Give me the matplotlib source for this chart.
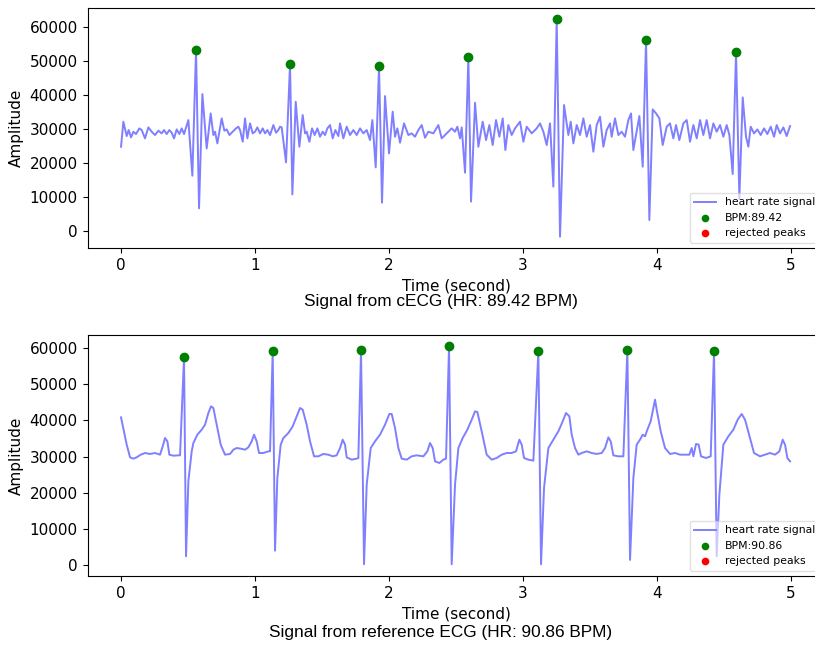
import matplotlib
matplotlib.use('Agg')
import matplotlib.pyplot as plt

# cECG signal (time in s, amplitude)
cecg_t = [0.0, 0.0174, 0.0423, 0.0572, 0.0746, 0.0920, 0.1119, 0.1368, 0.1542, 0.1791,
          0.2040, 0.2288, 0.2537, 0.2786, 0.3035, 0.3209, 0.3408, 0.3607, 0.3781, 0.3955,
          0.4154, 0.4353, 0.4527, 0.4701, 0.5025, 0.5323, 0.5597, 0.5821, 0.6070, 0.6393,
          0.6691, 0.6890, 0.7015, 0.7189, 0.7512, 0.7711, 0.7886, 0.8085, 0.8333, 0.8582,
          0.8756, 0.8881, 0.9080, 0.9254, 0.9428, 0.9627, 0.9826, 1.0000, 1.0174, 1.0373,
          1.0572, 1.0746, 1.0920, 1.1119, 1.1368, 1.1567, 1.1741, 1.1866, 1.1990, 1.2313,
          1.2612, 1.2786, 1.3035, 1.3308, 1.3557, 1.3731, 1.3856, 1.4055, 1.4254, 1.4453,
          1.4652, 1.4851, 1.5050, 1.5224, 1.5398, 1.5597, 1.5796, 1.5995, 1.6219, 1.6343,
          1.6592, 1.6840, 1.7089, 1.7338, 1.7587, 1.7836, 1.8084, 1.8333, 1.8582, 1.8756,
          1.9005, 1.9253, 1.9477, 1.9701, 1.9999, 2.0273, 2.0447, 2.0622, 2.0821, 2.1119,
          2.1443, 2.1691, 2.1940, 2.2189, 2.2438, 2.2686, 2.2935, 2.3308, 2.3681, 2.3930,
          2.4303, 2.4676, 2.4925, 2.5099, 2.5298, 2.5423, 2.5672, 2.5920, 2.6119, 2.6418,
          2.6667, 2.6990, 2.7239, 2.7488, 2.7736, 2.7985, 2.8234, 2.8482, 2.8681, 2.8905,
          2.9154, 2.9403, 2.9776, 3.0025, 3.0273, 3.0646, 3.1020, 3.1268, 3.1517, 3.1766,
          3.2015, 3.2263, 3.2512, 3.2761, 3.3059, 3.3383, 3.3557, 3.3756, 3.4005, 3.4253,
          3.4502, 3.4751, 3.5000, 3.5248, 3.5497, 3.5746, 3.5995, 3.6243, 3.6492, 3.6616,
          3.6865, 3.7114, 3.7363, 3.7611, 3.7860, 3.8059, 3.8233, 3.8681, 3.8930, 3.9179,
          3.9427, 3.9676, 3.9925, 4.0174, 4.0422, 4.0721, 4.0970, 4.1218, 4.1418, 4.1666,
          4.1965, 4.2214, 4.2462, 4.2711, 4.2960, 4.3209, 4.3457, 4.3706, 4.3955, 4.4204,
          4.4452, 4.4701, 4.4950, 4.5199, 4.5398, 4.5646, 4.5895, 4.6144, 4.6393, 4.6641,
          4.6815, 4.6989, 4.7238, 4.7487, 4.7736, 4.7984, 4.8233, 4.8482, 4.8731, 4.8930,
          4.9179, 4.9427, 4.9676, 4.9925]
cecg_amp = [24800, 32160, 27940, 29710, 27550, 29220, 28530, 30200, 29710, 27260,
            30490, 29220, 28240, 29510, 28730, 29710, 28530, 29710, 28920, 27260,
            29900, 28530, 30200, 28530, 32650, 16270, 53240, 6670, 40290, 24310,
            34610, 28240, 29220, 25780, 33140, 29510, 29900, 28240, 29220, 30200,
            30690, 29710, 26270, 33140, 27260, 31670, 28730, 29220, 30490, 28730,
            30200, 28730, 29710, 28240, 31180, 28920, 29710, 30690, 30490, 20200,
            49120, 10780, 38040, 24800, 34120, 28730, 29220, 26270, 30200, 28240,
            30200, 27750, 29220, 28240, 30200, 31180, 27260, 29710, 27940, 31670,
            27260, 30690, 28240, 29710, 28240, 30200, 28730, 29710, 26760, 32650,
            18730, 48530, 8330, 39710, 22840, 35100, 27740, 30200, 25980, 31670,
            28240, 28730, 27740, 29710, 31180, 27450, 29220, 28730, 31180, 27260,
            28730, 30200, 29220, 30690, 27260, 30490, 17160, 51270, 8630, 37750,
            24800, 32160, 26760, 31180, 25290, 32650, 27740, 33140, 23820, 31180,
            28240, 30200, 32160, 26270, 30690, 28730, 30200, 31670, 29220, 25290,
            31670, 13040, 62250, -1670, 37060, 28240, 32160, 25780, 31180, 28240,
            33140, 27740, 31180, 23330, 31180, 33630, 24800, 29710, 31670, 27740,
            33140, 28240, 29220, 27740, 32650, 34610, 23820, 33820, 18920, 56180,
            3230, 35780, 34610, 33140, 25290, 30690, 31670, 27260, 31180, 26760,
            31670, 32650, 26270, 31180, 27260, 32650, 28240, 32650, 27260, 31670,
            29220, 31180, 27740, 31180, 28240, 16770, 52550, 9610, 39310, 27740,
            24800, 30690, 28730, 29900, 28240, 30200, 28530, 30690, 27740, 31180,
            28730, 30490, 27940, 30880]
cecg_peak_t = [0.5597, 1.2612, 1.9253, 2.5920, 3.2512, 3.9179, 4.5895]
cecg_peak_amp = [53240, 49120, 48530, 51270, 62250, 56180, 52550]
cecg_bpm = 89.42

# reference ECG signal
ref_t = [0.0, 0.0124, 0.0423, 0.0672, 0.0920, 0.1169, 0.1468, 0.1791, 0.2164, 0.2537,
         0.2910, 0.3109, 0.3284, 0.3458, 0.3607, 0.3905, 0.4279, 0.4403, 0.4701, 0.4851,
         0.5025, 0.5273, 0.5398, 0.5697, 0.6020, 0.6269, 0.6517, 0.6716, 0.6890, 0.7139,
         0.7438, 0.7761, 0.8134, 0.8383, 0.8632, 0.8930, 0.9254, 0.9502, 0.9751, 0.9925,
         1.0124, 1.0298, 1.0622, 1.0995, 1.1120, 1.1318, 1.1492, 1.1666, 1.1915, 1.2114,
         1.2488, 1.2811, 1.3109, 1.3358, 1.3557, 1.3855, 1.4104, 1.4403, 1.4726, 1.5099,
         1.5473, 1.5796, 1.6095, 1.6343, 1.6542, 1.6716, 1.6840, 1.7214, 1.7587, 1.7711,
         1.7910, 1.8134, 1.8333, 1.8632, 1.8955, 1.9328, 1.9701, 2.0025, 2.0199, 2.0448,
         2.0696, 2.0945, 2.1318, 2.1691, 2.2065, 2.2562, 2.2860, 2.3060, 2.3259, 2.3433,
         2.3756, 2.4055, 2.4254, 2.4477, 2.4676, 2.4925, 2.5174, 2.5497, 2.5845, 2.6169,
         2.6418, 2.6592, 2.6915, 2.7288, 2.7662, 2.8035, 2.8408, 2.8781, 2.9154, 2.9477,
         2.9726, 2.9900, 3.0075, 3.0398, 3.0771, 3.1144, 3.1343, 3.1567, 3.1891, 3.2264,
         3.2637, 3.2960, 3.3209, 3.3458, 3.3631, 3.3880, 3.4129, 3.4378, 3.4751, 3.5124,
         3.5497, 3.5870, 3.6119, 3.6368, 3.6542, 3.6741, 3.7114, 3.7487, 3.7786, 3.7985,
         3.8234, 3.8482, 3.8731, 3.8930, 3.9104, 3.9278, 3.9527, 3.9726, 3.9850, 3.9974,
         4.0273, 4.0597, 4.0970, 4.1343, 4.1716, 4.2089, 4.2413, 4.2587, 4.2711, 4.2910,
         4.3109, 4.3283, 4.3656, 4.4005, 4.4253, 4.4452, 4.4651, 4.4950, 4.5323, 4.5696,
         4.6019, 4.6318, 4.6567, 4.6940, 4.7238, 4.7685, 4.8060, 4.8432, 4.8806, 4.9129,
         4.9378, 4.9552, 4.9726, 4.9925]
ref_amp = [40830, 38620, 33280, 29770, 29410, 29770, 30510, 30970, 30700, 30970,
           30510, 32810, 35120, 34200, 30510, 30230, 30330, 30330, 57520, 2400,
           23140, 31430, 33740, 36040, 37420, 38800, 42030, 43880, 43410, 38800,
           33280, 30510, 30700, 31890, 32350, 32170, 31890, 32540, 34200, 36040,
           34200, 30970, 30970, 31430, 31430, 59080, 3960, 24060, 33280, 35120,
           36500, 38340, 41110, 43410, 42950, 38800, 34200, 30050, 30050, 30700,
           30510, 30050, 30330, 32350, 34660, 33280, 29770, 29130, 29410, 29590,
           59360, 200, 22210, 32350, 34200, 36040, 38800, 41760, 41760, 37880,
           32350, 29410, 29130, 30050, 30330, 30050, 31430, 33740, 32350, 28670,
           28210, 29130, 29410, 60470, 200, 22210, 32350, 35120, 37420, 40190,
           42490, 42310, 36960, 30510, 29130, 29590, 30510, 30970, 30970, 31430,
           34660, 33280, 29590, 29130, 28850, 59080, 200, 21290, 32350, 34660,
           36960, 39730, 42030, 41110, 36040, 32350, 30510, 30970, 31430, 30970,
           30700, 30970, 32350, 35300, 34200, 30330, 30050, 30050, 59540, 1400,
           24060, 33280, 34660, 36040, 35580, 37420, 39730, 43410, 45720, 42950,
           36960, 32350, 30700, 30970, 30510, 30510, 30510, 32350, 30050, 33460,
           33280, 30050, 29590, 30050, 59270, 2400, 19450, 33280, 35580, 37420,
           40190, 41760, 40190, 35120, 30970, 30050, 30510, 30970, 30510, 31430,
           34660, 33280, 29590, 28670]
ref_peak_t = [0.4701, 1.1318, 1.7910, 2.4477, 3.1144, 3.7786, 4.4253]
ref_peak_amp = [57520, 59080, 59360, 60470, 59080, 59540, 59270]
ref_bpm = 90.86

panels = [
    (cecg_t, cecg_amp, cecg_peak_t, cecg_peak_amp, cecg_bpm, 'cECG', (-5000, 65600)),
    (ref_t, ref_amp, ref_peak_t, ref_peak_amp, ref_bpm, 'reference ECG', (-3040, 63600)),
]

plt.rcParams['font.size'] = 11

fig = plt.figure(figsize=(8.15, 6.45), dpi=100)
# axes run past the right edge like in the (cropped) original
ax_boxes = [[0.1074, 0.6155, 0.9043, 0.372], [0.1074, 0.107, 0.9043, 0.3736]]
caption_y = [0.532, 0.020]

for box, cy, (t, amp, pk_t, pk_amp, bpm, name, ylim) in zip(ax_boxes, caption_y, panels):
    ax = fig.add_axes(box)
    ax.plot(t, amp, color='#7F7FFF', lw=1.4, label='heart rate signal', zorder=-10)
    ax.scatter(pk_t, pk_amp, color='green', label='BPM:%.2f' % bpm)
    ax.scatter([], [], color='red', label='rejected peaks')
    ax.set_xlim(-0.25, 5.25)
    ax.set_ylim(*ylim)
    ax.set_xticks(range(6))
    ax.set_yticks(range(0, 60001, 10000))
    ax.set_xlabel('Time (second)')
    ax.set_ylabel('Amplitude')
    ax.legend(loc=4, framealpha=0.6, fontsize=7.8, markerscale=0.75)
    fig.text(0.541, cy, f'Signal from {name} (HR: {bpm:.2f} BPM)',
             ha='center', va='center', fontsize=12.4, family='Liberation Sans')

fig.savefig('out.png', dpi=100)
